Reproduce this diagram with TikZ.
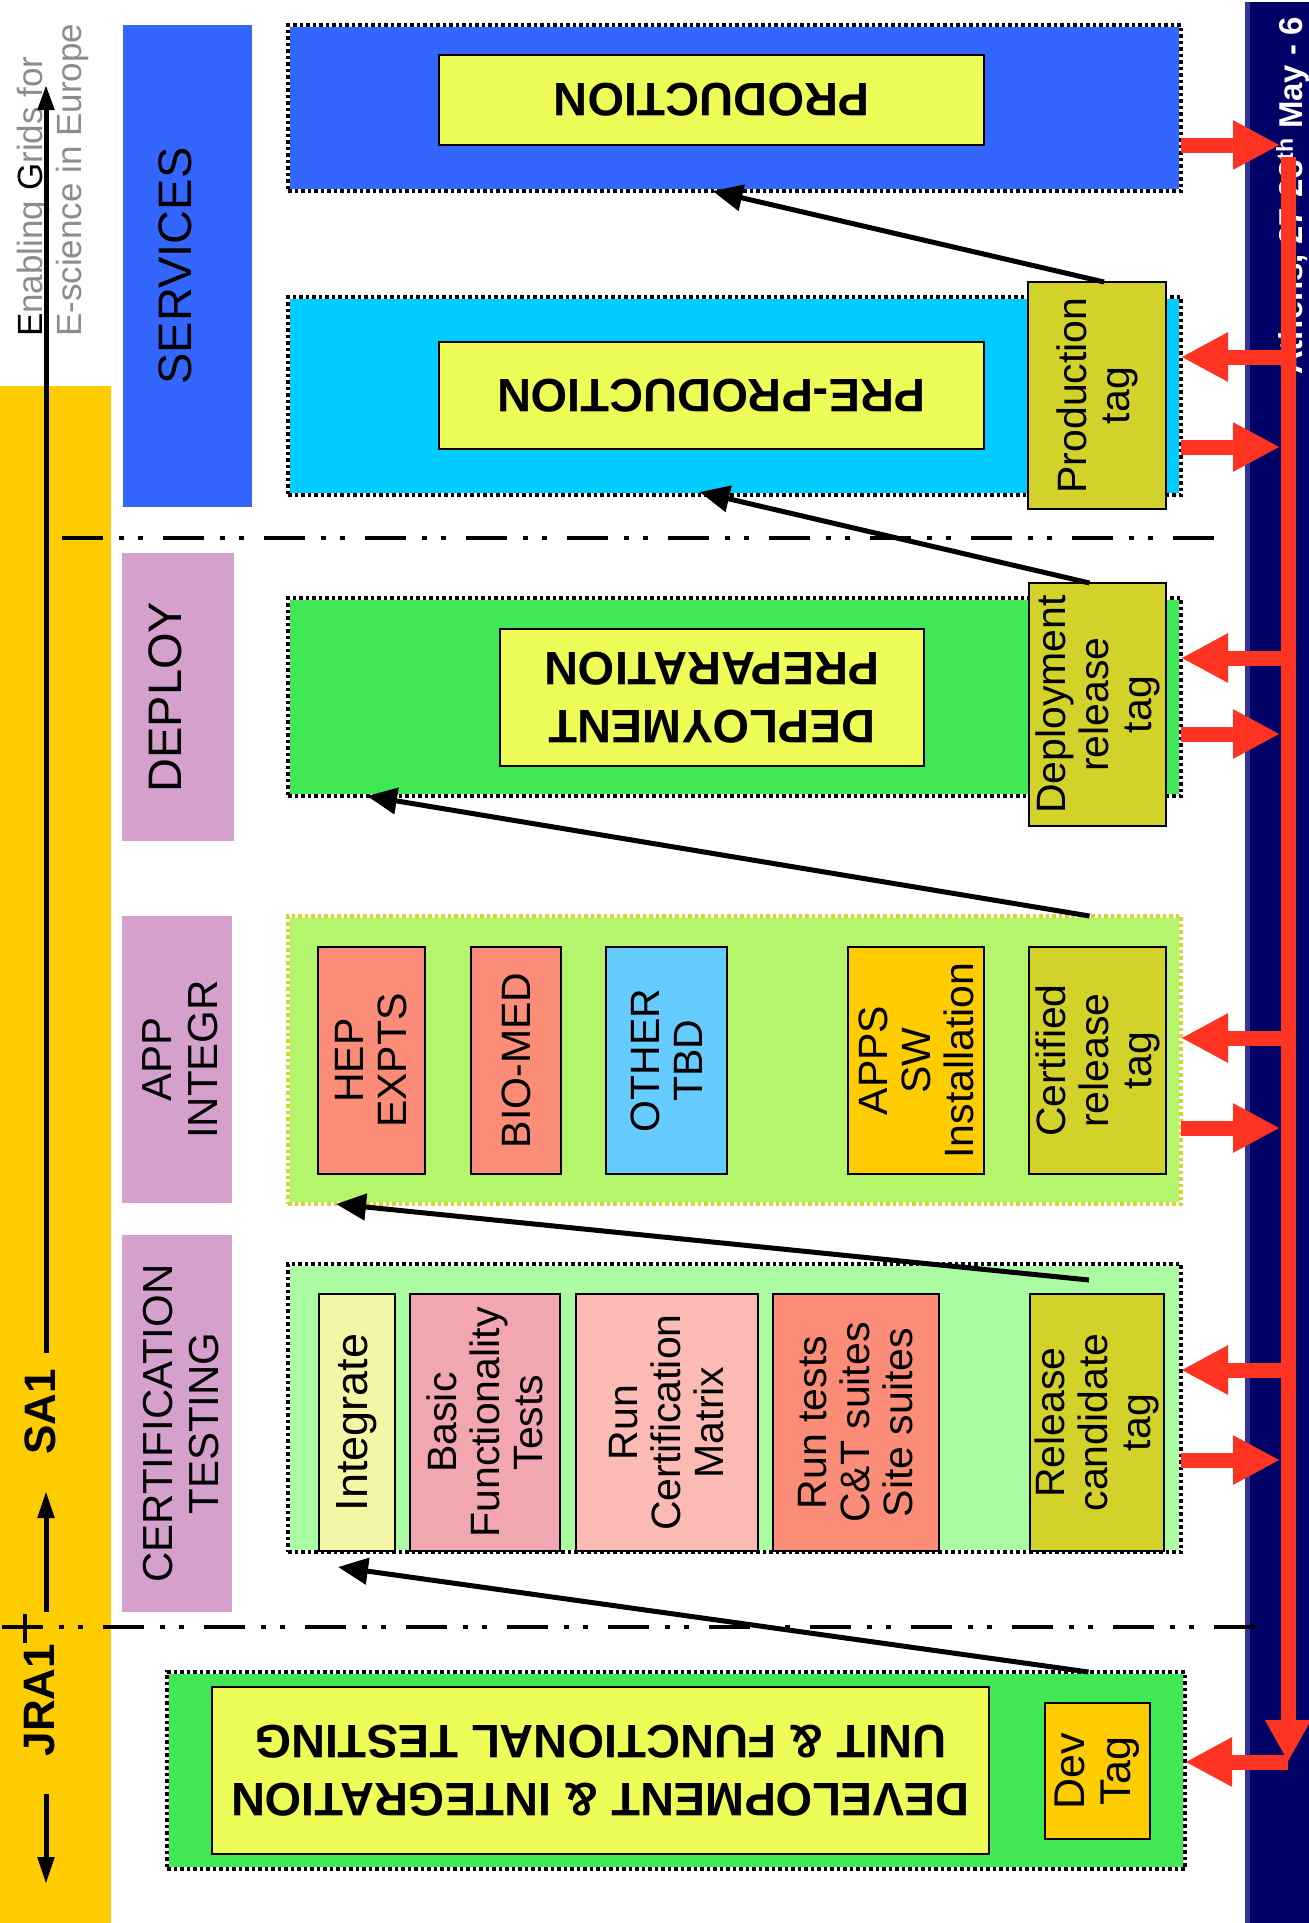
\documentclass[tikz,border=0pt]{standalone}
\usepackage{fontspec}
\setmainfont{Liberation Sans}
\usetikzlibrary{arrows.meta,calc}

\definecolor{servblue}{RGB}{51,102,255}
\definecolor{precyan}{RGB}{0,204,255}
\definecolor{depgreen}{RGB}{64,232,85}
\definecolor{applime}{RGB}{181,245,107}
\definecolor{certgreen}{RGB}{170,251,162}
\definecolor{boxyellow}{RGB}{238,252,88}
\definecolor{tagolive}{RGB}{210,210,42}
\definecolor{salmon}{RGB}{250,140,120}
\definecolor{rosepink}{RGB}{242,166,176}
\definecolor{palepink}{RGB}{251,186,180}
\definecolor{paleyellow}{RGB}{245,245,166}
\definecolor{skyblue}{RGB}{102,204,255}
\definecolor{gold}{RGB}{255,204,0}
\definecolor{mauve}{RGB}{214,160,204}
\definecolor{navy}{RGB}{0,0,102}
\definecolor{navyedge}{RGB}{51,51,153}
\definecolor{busred}{RGB}{255,51,34}
\definecolor{dotyellow}{RGB}{214,214,40}
\definecolor{logogray}{RGB}{140,140,140}

\newcommand{\stagefont}{\fontsize{47}{58}\selectfont\bfseries}
\newcommand{\bandfont}{\fontsize{47}{52}\selectfont}
\newcommand{\bandsmallfont}{\fontsize{42}{46}\selectfont}
\newcommand{\tagfont}{\fontsize{41}{43}\selectfont}
\newcommand{\axisfont}{\fontsize{44}{48}\selectfont\bfseries}
\newcommand{\datefont}{\fontsize{33}{36}\selectfont\bfseries}
\newcommand{\logofont}{\fontsize{35}{39}\selectfont}

\begin{document}
\begin{tikzpicture}
 [x=1pt, y=-1pt,
  stage/.style 2 args={anchor=north west, inner sep=0, outer sep=0, fill=#1, draw=white, line width=3.5pt,
    postaction={draw=#2, dash pattern=on 3.5pt off 3pt}},
  inbox/.style={anchor=north west, inner sep=0, outer sep=0, fill=#1, draw=black, line width=2pt},
  band/.style={anchor=north west, inner sep=0, outer sep=0, fill=#1},
  htext/.style={rotate=180, align=center, font=\stagefont},
  vtext/.style={rotate=90, align=center, font=\tagfont},
  bandtext/.style={rotate=90, align=center, font=\bandfont},
  axislab/.style={rotate=90, font=\axisfont},
  flow/.style={-{Triangle[length=30pt,width=26pt]}, line width=5pt},
  bus/.style={-{Triangle[length=42pt,width=43pt]}, line width=15pt, busred},
  feed/.style={-{Triangle[length=47pt,width=46pt]}, line width=15pt, busred},
  sep/.style={line width=4.5pt, dash pattern=on 41pt off 16pt on 5pt off 14pt on 5pt off 20pt},
  axis/.style={line width=5pt}]

 \useasboundingbox (0,0) rectangle (1309,1923);

 % side strips
 \fill[gold] (0,386) rectangle (111,1923);
 \fill[navy] (1245,2) rectangle (1309,1923);
 \fill[navyedge] (1245,2) rectangle (1250,1923);
 \node[rotate=90, anchor=base, inner sep=0, text=white, font=\datefont] (date) at (1302,196)
   {Athens, 27-28\textsuperscript{th} May - 6};
 \node[rotate=90, anchor=south west, align=left, inner sep=0, text=logogray, font=\logofont] (logo) at (89,337)
   {{\color{black}E}nabling {\color{black}G}rids for\\E-science in Europe};

 % separators
 \draw[sep] (62,538) -- (1216,538);
 \draw[sep] (2,1627) -- (1256,1627);

 % activity bands
 \node[band=servblue, minimum width=129, minimum height=482, label={[xshift=-12pt, bandtext]center:SERVICES}] (services) at (123,25) {};
 \node[band=mauve, minimum width=112, minimum height=288, label={[xshift=-13pt, bandtext]center:DEPLOY}] (deploy) at (122,553) {};
 \node[band=mauve, minimum width=110, minimum height=287, label={[xshift=3pt, bandtext, font=\bandsmallfont]center:APP\\INTEGR}] (appband) at (122,916) {};
 \node[band=mauve, minimum width=110, minimum height=377, label={[xshift=4pt, bandtext, font=\bandsmallfont]center:CERTIFICATION\\TESTING}] (certband) at (122,1235) {};

 % stages
 \node[stage={servblue}{black}, minimum width=893, minimum height=166] (prod) at (288,25) {};
 \node[stage={precyan}{black}, minimum width=893, minimum height=198] (preprod) at (288,297) {};
 \node[stage={depgreen}{black}, minimum width=893, minimum height=198] (depprep) at (288,598) {};
 \node[stage={applime}{dotyellow}, minimum width=893, minimum height=288] (appint) at (288,916) {};
 \node[stage={certgreen}{black}, minimum width=893, minimum height=288] (cert) at (288,1264) {};
 \node[stage={depgreen}{black}, minimum width=1018, minimum height=197] (devint) at (167,1672) {};

 \node[inbox=boxyellow, minimum width=545, minimum height=90, label={[htext]center:PRODUCTION}] (prodin) at (439,55) {};
 \node[inbox=boxyellow, minimum width=545, minimum height=107, label={[htext]center:PRE-PRODUCTION}] (preprodin) at (439,342) {};
 \node[inbox=boxyellow, minimum width=424, minimum height=137, label={[htext]center:DEPLOYMENT\\PREPARATION}] (depin) at (500,629) {};
 \node[inbox=boxyellow, minimum width=777, minimum height=167, label={[htext]center:DEVELOPMENT \& INTEGRATION\\UNIT \& FUNCTIONAL TESTING}] (devin) at (212,1687) {};

 \node[inbox=tagolive, minimum width=138, minimum height=227, label={[vtext]center:Production\\tag}] (prodtag) at (1028,282) {};
 \node[inbox=tagolive, minimum width=137, minimum height=243, label={[vtext]center:Deployment\\release\\tag}] (deptag) at (1029,583) {};

 \node[inbox=salmon, minimum width=107, minimum height=227, label={[vtext]center:HEP\\EXPTS}] (hep) at (318,947) {};
 \node[inbox=salmon, minimum width=90, minimum height=227, label={[vtext]center:BIO-MED}] (biomed) at (471,947) {};
 \node[inbox=skyblue, minimum width=121, minimum height=227, label={[vtext]center:OTHER\\TBD}] (other) at (606,947) {};
 \node[inbox=gold, minimum width=136, minimum height=227, label={[vtext]center:APPS\\SW\\Installation}] (apps) at (848,947) {};
 \node[inbox=tagolive, minimum width=137, minimum height=227, label={[vtext]center:Certified\\release\\tag}] (certtag) at (1029,947) {};

 \node[inbox=paleyellow, minimum width=76, minimum height=257, label={[vtext, font=\fontsize{45}{48}\selectfont]center:Integrate}] (integ) at (319,1294) {};
 \node[inbox=rosepink, minimum width=150, minimum height=257, label={[vtext]center:Basic\\Functionality\\Tests}] (basic) at (410,1294) {};
 \node[inbox=palepink, minimum width=182, minimum height=257, label={[vtext]center:Run\\Certification\\Matrix}] (matrix) at (576,1294) {};
 \node[inbox=salmon, minimum width=166, minimum height=257, label={[vtext]center:Run tests\\C\&T suites\\Site suites}] (suites) at (773,1294) {};
 \node[inbox=tagolive, minimum width=134, minimum height=257, label={[vtext]center:Release\\candidate\\tag}] (rctag) at (1030,1294) {};

 \node[inbox=gold, minimum width=105, minimum height=136, label={[vtext, font=\fontsize{43}{46}\selectfont]center:Dev\\Tag}] (devtag) at (1045,1703) {};

 % project axis
 \coordinate (axtop) at (46,85);
 \coordinate (axsa) at (46,1353);
 \coordinate (axup) at (46,1612);
 \coordinate (axuptip) at (46,1491);
 \coordinate (axdown) at (46,1794);
 \coordinate (axdowntip) at (46,1884);
 \draw[axis, -{Triangle[length=25pt,width=16pt]}] (axsa) -- (axtop);
 \draw[axis, -{Triangle[length=27pt,width=16pt]}] (axup) -- (axuptip);
 \draw[axis, -{Triangle[length=27pt,width=16pt]}] (axdown) -- (axdowntip);
 \draw[line width=4pt] (25,1614) -- (25,1643);
 \node[axislab] (sa) at (40,1412) {SA1};
 \node[axislab] (jra) at (40,1700) {JRA1};

 % promotion arrows
 \path
  ($(prodtag.north)+(7,0)$) edge [flow] ($(prod.south)+(-22,0)$)
  ($(deptag.north)+(-8,0)$) edge [flow] ($(preprod.south)+(-35,-3)$)
  ($(certtag.north |- appint.north)+(-8,0)$) edge [flow] ($(depprep.south west)+(79,0)$)
  ($(rctag.north)+(-8,-14)$) edge [flow] ($(appint.south west)+(48,0)$)
  ($(devtag.north |- devint.north)+(-9,0)$) edge [flow] ($(integ.south)+(-19,16)$);

 % feedback bus
 \coordinate (bustop) at (1288,157);
 \coordinate (busend) at (1288,1762);
 \draw[bus] (bustop) -- (busend);
 \foreach \stg/\yy in {prod/145, preprod/447, depprep/734, appint/1128, cert/1460}{
   \coordinate (in-\stg) at (1280,\yy);
   \draw[feed] (\stg.east |- in-\stg) -- (in-\stg);
 }
 \foreach \stg/\yy in {preprod/357, depprep/658, appint/1038, cert/1370, devint/1762}{
   \coordinate (out-\stg) at (1288,\yy);
   \draw[feed] (out-\stg) -- (\stg.east |- out-\stg);
 }

\end{tikzpicture}
\end{document}
